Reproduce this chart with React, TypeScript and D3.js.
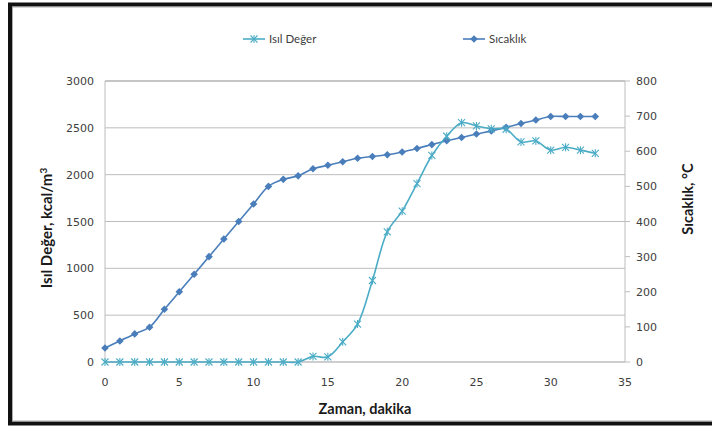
import React from "react";
import * as d3 from "d3";

const minutes = [0,1,2,3,4,5,6,7,8,9,10,11,12,13,14,15,16,17,18,19,20,21,22,23,24,25,26,27,28,29,30,31,32,33];
const isilDeger = [0,0,0,0,0,0,0,0,0,0,0,0,0,0,60,55,215,405,870,1390,1610,1905,2205,2410,2555,2520,2490,2485,2350,2360,2262,2292,2262,2228];
const sicaklik = [40,60,80,99,150,200,250,300,350,400,450,500,520,530,550,560,570,580,585,590,598,608,619,630,639,649,658,668,679,689,699,699,699,699];
const leftTicks = [0,500,1000,1500,2000,2500,3000];
const rightTicks = [0,100,200,300,400,500,600,700,800];
const xTicks = [0,5,10,15,20,25,30,35];

const W = 712, H = 427;
const L = 105, R = 625, T = 81, B = 362;
const C1 = "#4bacc6";
const C2 = "#4a7ebb";
const TXT = "#404040";

function Star({ x, y, s = 3.5, color }: { x: number; y: number; s?: number; color: string }) {
  return (
    <g stroke={color} strokeWidth={1.1}>
      <line x1={x - s} y1={y - s} x2={x + s} y2={y + s} />
      <line x1={x - s} y1={y + s} x2={x + s} y2={y - s} />
      <line x1={x} y1={y - s - 0.5} x2={x} y2={y + s + 0.5} />
    </g>
  );
}
function Diamond({ x, y, s = 3.8, color }: { x: number; y: number; s?: number; color: string }) {
  return <path d={`M${x},${y - s}L${x + s},${y}L${x},${y + s}L${x - s},${y}Z`} fill={color} />;
}

export default function App() {
  const x = d3.scaleLinear().domain([0, 35]).range([L, R]);
  const yL = d3.scaleLinear().domain([0, 3000]).range([B, T]);
  const yR = d3.scaleLinear().domain([0, 800]).range([B, T]);

  const line1 = d3.line<number>().x((_, i) => x(minutes[i])).y((d) => yL(d)).curve(d3.curveCatmullRom.alpha(0.5));
  const line2 = d3.line<number>().x((_, i) => x(minutes[i])).y((d) => yR(d)).curve(d3.curveCatmullRom.alpha(0.5));

  return (
    <svg width={W} height={H} style={{ position: "absolute", left: 0, top: 0, background: "#fff" }}>
      <rect x={0} y={0} width={W} height={H} fill="#fff" />
      <rect x={10} y={4.5} width={710} height={419} fill="none" stroke="#111" strokeWidth={4} />
      <rect x={12.5} y={7} width={705} height={414} fill="none" stroke="#999" strokeWidth={0.8} />

      {/* gridlines */}
      {leftTicks.map((t) => (
        <line key={"g" + t} x1={L} x2={R} y1={yL(t)} y2={yL(t)} stroke={t === 3000 ? "#8c8c8c" : "#bdbdbd"} strokeWidth={1} />
      ))}
      {/* axes */}
      <line x1={L} x2={L} y1={T} y2={B} stroke="#bdbdbd" />
      <line x1={R} x2={R} y1={T} y2={B} stroke="#bdbdbd" />
      <line x1={L} x2={R} y1={B} y2={B} stroke="#bdbdbd" />
      {rightTicks.map((t) => (
        <line key={"rt" + t} x1={R} x2={R + 5} y1={yR(t)} y2={yR(t)} stroke="#bdbdbd" />
      ))}

      {/* tick labels */}
      <g fontFamily="DejaVu Sans" fontSize={11} fill={TXT}>
        {leftTicks.map((t) => (
          <text key={"lt" + t} x={94} y={yL(t) + 4} textAnchor="end">{t}</text>
        ))}
        {rightTicks.map((t) => (
          <text key={"rl" + t} x={636} y={yR(t) + 4} textAnchor="start">{t}</text>
        ))}
        {xTicks.map((t) => (
          <text key={"xl" + t} x={x(t)} y={386} textAnchor="middle">{t}</text>
        ))}
      </g>

      {/* titles */}
      <g fontFamily="Lato" fontWeight="bold" fontSize={14.5} fill="#1a1a1a">
        <text x={365} y={414} textAnchor="middle">Zaman, dakika</text>
        <text transform={`translate(52,228) rotate(-90)`} textAnchor="middle" fontSize={15}>
          Isıl Değer, kcal/m<tspan fontSize={10} dy={-5}>3</tspan>
        </text>
        <text transform={`translate(693,199) rotate(-90)`} textAnchor="middle">Sıcaklık, °C</text>
      </g>

      {/* series */}
      <path d={line2(sicaklik) || ""} fill="none" stroke={C2} strokeWidth={1.6} />
      <path d={line1(isilDeger) || ""} fill="none" stroke={C1} strokeWidth={1.6} />
      {sicaklik.map((v, i) => (
        <Diamond key={"d" + i} x={x(minutes[i])} y={yR(v)} color={C2} />
      ))}
      {isilDeger.map((v, i) => (
        <Star key={"s" + i} x={x(minutes[i])} y={yL(v)} color={C1} />
      ))}

      {/* legend */}
      <g fontFamily="Lato" fontSize={11.5} fill={TXT}>
        <line x1={243} x2={265} y1={39} y2={39} stroke={C1} strokeWidth={1.6} />
        <Star x={254} y={39} color={C1} />
        <text x={269} y={43}>Isıl Değer</text>
        <line x1={463} x2={485} y1={39} y2={39} stroke={C2} strokeWidth={1.6} />
        <Diamond x={474} y={39} color={C2} />
        <text x={489} y={43}>Sıcaklık</text>
      </g>
    </svg>
  );
}
